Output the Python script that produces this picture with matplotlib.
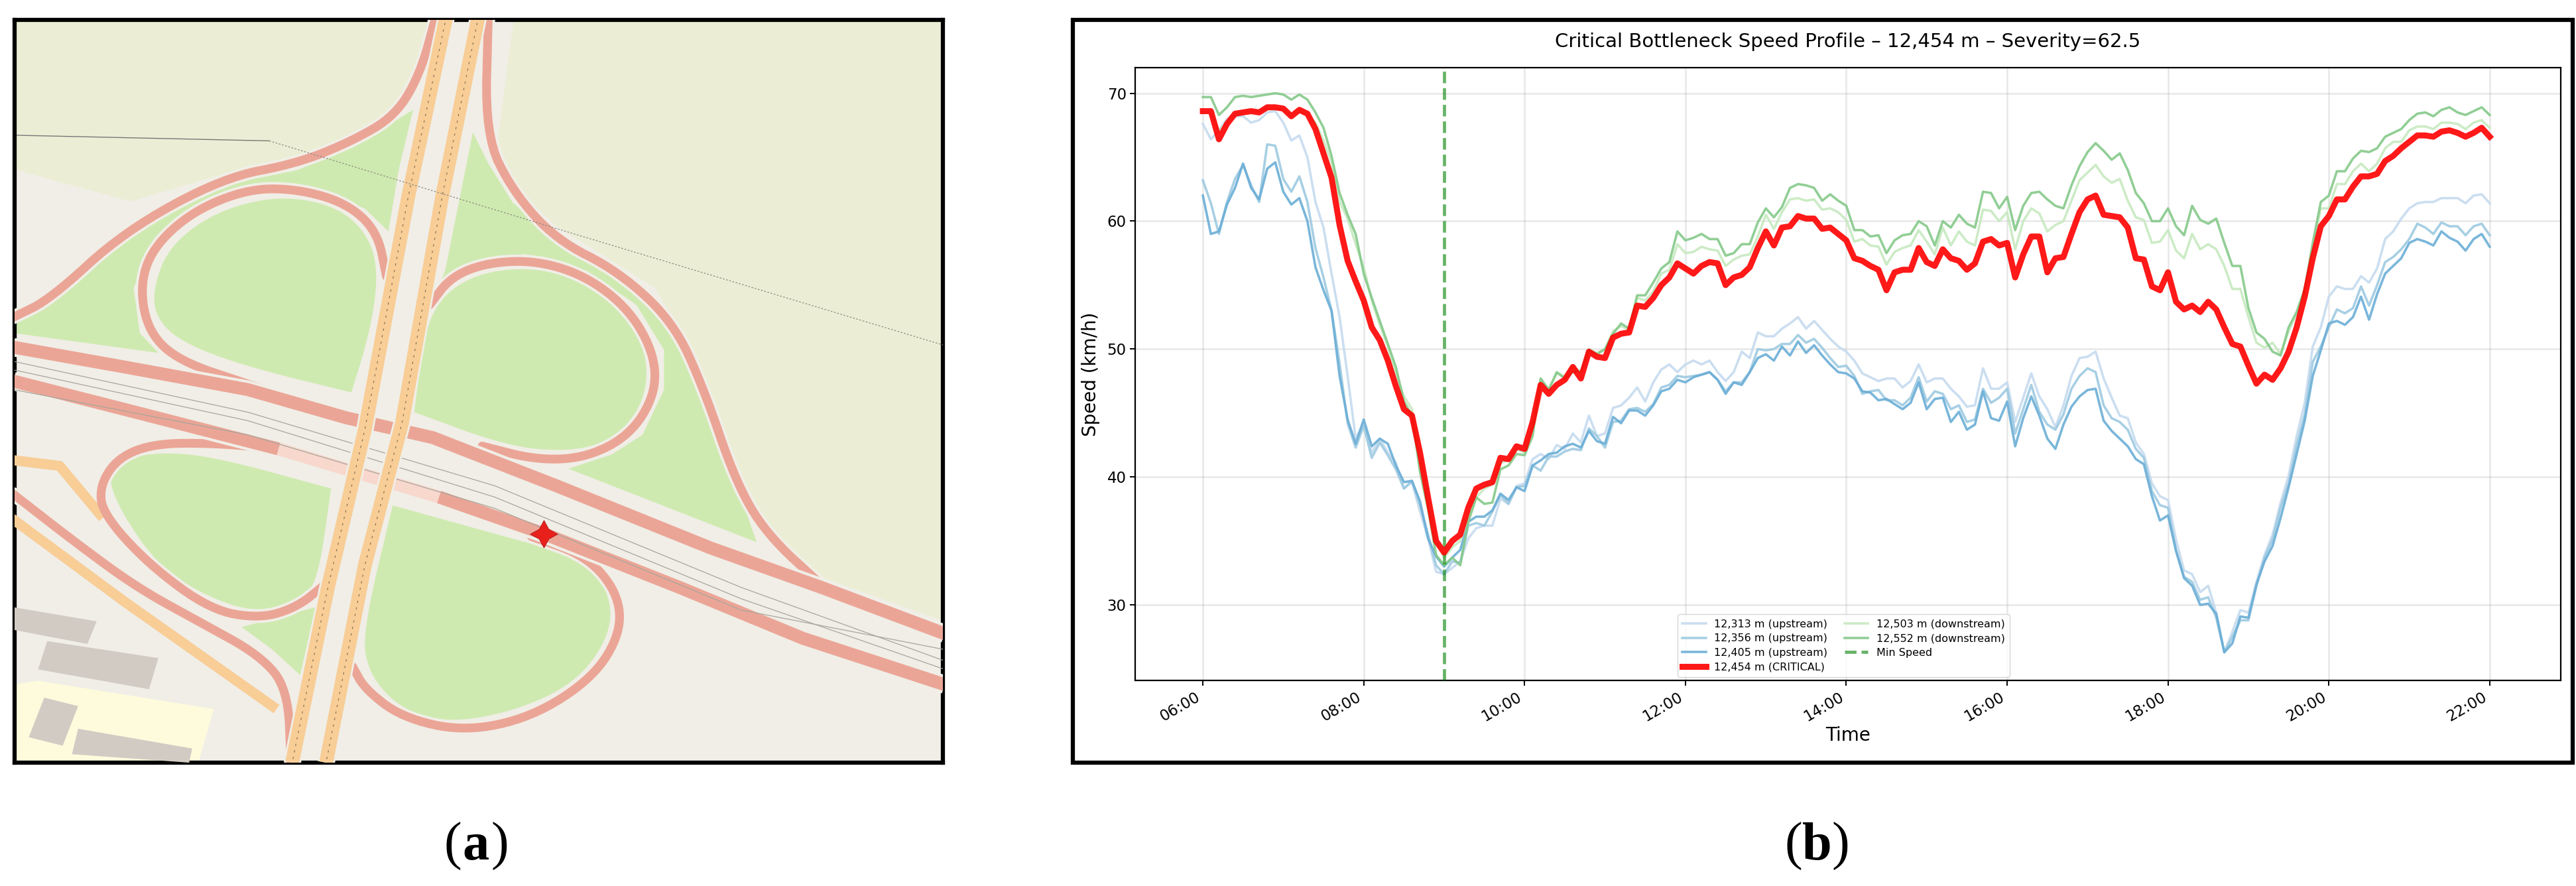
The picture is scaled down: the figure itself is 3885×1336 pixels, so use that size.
import numpy as np
import pandas as pd
import matplotlib
matplotlib.use("Agg")
import matplotlib.pyplot as plt
import matplotlib.dates as mdates
from matplotlib.patches import Rectangle, Polygon

W = 3885
H = 1336

# speed profiles, one value every 6 minutes from 06:00 to 22:00
times = pd.date_range("2024-01-01 06:00", periods=161, freq="6min")

speed_12313 = [
    67.6, 66.4, 67.1, 68.0, 68.2, 68.2, 67.7, 67.9, 68.5, 68.6,
    67.7, 66.3, 66.7, 65.0, 61.5, 59.5, 55.9, 52.5, 47.9, 43.0,
    44.2, 41.9, 43.0, 41.9, 41.1, 39.1, 39.6, 37.3, 35.2, 32.6,
    32.4, 32.9, 33.4, 35.2, 36.0, 36.2, 36.2, 38.3, 37.9, 39.3,
    39.5, 41.4, 41.8, 41.4, 42.5, 42.2, 43.4, 42.7, 44.8, 43.2,
    43.4, 45.4, 45.6, 46.2, 47.0, 45.9, 47.4, 48.4, 48.8, 48.2,
    48.8, 49.1, 48.8, 49.1, 48.2, 47.5, 48.2, 49.8, 49.3, 51.3,
    51.0, 51.0, 51.6, 52.0, 52.5, 51.6, 52.2, 51.5, 50.8, 50.2,
    49.8, 49.1, 48.1, 47.8, 47.5, 47.7, 47.7, 47.0, 47.5, 48.8,
    47.4, 47.7, 47.7, 46.9, 46.3, 45.5, 45.6, 48.5, 46.9, 46.9,
    47.4, 44.3, 46.2, 48.1, 46.3, 45.3, 43.9, 45.6, 47.9, 49.3,
    49.4, 49.8, 47.7, 46.2, 44.8, 44.6, 42.7, 41.8, 39.5, 38.5,
    38.2, 35.1, 32.7, 32.4, 31.0, 31.5, 29.4, 26.3, 27.9, 29.6,
    29.4, 31.8, 33.9, 35.5, 38.0, 40.1, 43.2, 45.8, 50.2, 51.7,
    54.1, 54.9, 54.7, 54.7, 55.7, 55.2, 56.3, 58.6, 59.2, 60.2,
    61.0, 61.4, 61.5, 61.5, 61.8, 61.8, 61.8, 61.4, 62.0, 62.1,
    61.4,
]
speed_12356 = [
    63.2, 61.4, 59.0, 61.5, 63.3, 64.4, 62.8, 61.5, 66.0, 65.9,
    63.3, 62.3, 63.5, 61.5, 57.9, 55.6, 53.0, 48.9, 44.2, 42.3,
    44.0, 41.5, 42.7, 41.7, 40.6, 39.1, 39.7, 37.8, 35.5, 33.1,
    32.4, 33.4, 33.3, 36.2, 36.4, 36.2, 37.3, 38.6, 37.9, 39.2,
    39.3, 40.9, 40.5, 41.6, 41.6, 42.0, 42.2, 42.1, 43.8, 43.2,
    42.3, 44.3, 44.4, 45.3, 45.4, 45.1, 45.7, 47.0, 47.2, 47.9,
    47.8, 47.9, 48.0, 48.2, 47.6, 46.7, 47.4, 47.4, 48.2, 50.0,
    49.9, 50.0, 50.4, 50.4, 51.1, 50.5, 50.8, 50.1, 49.3, 48.6,
    48.7, 47.9, 46.5, 46.7, 46.8, 46.0, 46.0, 45.6, 46.2, 47.8,
    45.9, 46.7, 46.5, 45.3, 45.6, 44.3, 44.5, 46.9, 45.8, 46.2,
    46.9, 43.4, 45.3, 47.2, 45.1, 44.1, 43.7, 44.9, 46.9, 47.9,
    48.5, 48.2, 45.6, 44.6, 44.3, 43.7, 42.2, 41.5, 38.9, 37.8,
    37.6, 34.3, 32.2, 31.8, 30.4, 30.6, 29.0, 26.3, 27.5, 28.8,
    28.8, 31.5, 33.7, 35.1, 37.6, 39.5, 42.5, 44.9, 49.0, 50.2,
    51.7, 53.1, 52.8, 53.2, 54.9, 53.4, 55.0, 56.8, 57.2, 57.8,
    58.6, 59.8, 59.5, 59.0, 59.9, 59.6, 59.6, 58.9, 59.6, 59.8,
    58.9,
]
speed_12405 = [
    62.0, 59.0, 59.2, 61.3, 62.6, 64.5, 62.6, 61.7, 64.1, 64.6,
    62.3, 61.3, 61.8, 60.0, 56.4, 54.6, 53.0, 47.9, 44.5, 42.6,
    44.5, 42.4, 43.0, 42.6, 40.9, 39.6, 39.7, 38.1, 35.2, 33.8,
    33.0, 33.7, 34.3, 36.5, 36.9, 36.9, 37.4, 38.7, 38.2, 39.2,
    38.9, 40.9, 41.3, 41.8, 41.9, 42.4, 42.6, 42.3, 43.6, 42.8,
    42.6, 44.7, 44.2, 45.2, 45.2, 44.8, 45.6, 46.7, 46.9, 47.6,
    47.4, 47.8, 48.0, 48.2, 47.6, 46.5, 47.4, 47.2, 48.2, 49.3,
    49.6, 49.1, 50.2, 49.5, 50.6, 49.7, 50.3, 49.5, 48.8, 48.2,
    48.1, 47.7, 46.7, 46.6, 46.0, 46.1, 45.7, 45.3, 45.8, 47.4,
    45.3, 46.1, 46.2, 44.3, 45.1, 43.7, 44.1, 46.7, 44.6, 44.4,
    45.9, 42.4, 44.6, 46.3, 44.8, 43.0, 42.2, 44.1, 45.5, 46.3,
    46.8, 46.9, 44.4, 43.6, 43.0, 42.4, 41.4, 41.0, 38.5, 36.6,
    37.0, 34.2, 32.1, 31.5, 30.0, 30.1, 29.3, 26.3, 27.0, 29.1,
    29.0, 31.6, 33.4, 34.6, 36.8, 39.2, 41.8, 44.4, 47.9, 49.9,
    52.0, 52.2, 51.9, 52.5, 54.1, 52.3, 54.3, 55.9, 56.5, 57.1,
    58.3, 58.6, 58.4, 58.1, 59.2, 58.7, 58.4, 57.7, 58.6, 59.0,
    58.0,
]
speed_12454 = [
    68.6, 68.6, 66.4, 67.6, 68.4, 68.5, 68.6, 68.5, 68.9, 68.9,
    68.8, 68.2, 68.7, 68.4, 67.2, 65.3, 63.4, 59.7, 56.9, 55.3,
    53.8, 51.7, 50.7, 49.1, 47.1, 45.3, 44.8, 41.9, 38.4, 35.0,
    34.1, 35.0, 35.5, 37.6, 39.1, 39.4, 39.6, 41.5, 41.4, 42.4,
    42.2, 44.3, 47.2, 46.5, 47.2, 47.6, 48.6, 47.7, 49.8, 49.4,
    49.3, 50.9, 51.2, 51.3, 53.4, 53.3, 54.0, 55.0, 55.6, 56.7,
    56.3, 55.9, 56.5, 56.8, 56.7, 55.0, 55.6, 55.8, 56.4, 57.9,
    59.2, 58.1, 59.5, 59.6, 60.4, 60.2, 60.2, 59.4, 59.5, 59.0,
    58.5, 57.1, 56.9, 56.5, 56.2, 54.6, 56.0, 56.2, 56.2, 57.9,
    56.8, 56.5, 57.8, 57.1, 56.9, 56.2, 56.7, 58.4, 58.6, 58.1,
    58.3, 55.6, 57.4, 58.8, 58.8, 56.0, 57.1, 57.2, 59.0, 60.7,
    61.7, 62.0, 60.5, 60.4, 60.3, 59.5, 57.1, 57.0, 54.9, 54.6,
    56.0, 53.7, 53.1, 53.4, 52.9, 53.7, 53.1, 51.7, 50.4, 50.2,
    48.7, 47.3, 48.0, 47.6, 48.5, 49.8, 51.7, 54.1, 57.1, 59.6,
    60.4, 61.7, 61.7, 62.7, 63.5, 63.5, 63.7, 64.7, 65.1, 65.7,
    66.2, 66.7, 66.7, 66.6, 67.0, 67.1, 66.9, 66.6, 66.9, 67.3,
    66.6,
]
speed_12503 = [
    68.5, 68.5, 67.0, 67.8, 68.4, 68.5, 68.6, 68.6, 68.8, 68.8,
    68.7, 68.3, 68.6, 68.3, 67.7, 66.3, 64.6, 61.5, 60.2, 58.2,
    56.4, 53.8, 51.9, 50.2, 48.1, 46.3, 45.3, 41.9, 38.4, 35.0,
    33.7, 34.5, 35.0, 36.8, 38.4, 39.1, 39.4, 41.1, 41.3, 42.2,
    41.9, 44.0, 47.6, 46.9, 48.1, 47.9, 48.6, 48.2, 50.0, 49.7,
    50.0, 51.4, 51.8, 51.5, 54.0, 53.8, 54.5, 55.9, 56.2, 58.2,
    57.5, 57.6, 58.0, 57.8, 57.7, 56.5, 57.0, 57.3, 57.4, 58.8,
    60.5, 59.4, 60.7, 61.7, 61.8, 61.6, 61.7, 60.9, 61.0, 60.7,
    60.1, 58.4, 58.6, 58.1, 58.0, 56.6, 57.6, 57.9, 58.1, 59.3,
    58.4, 57.4, 59.5, 58.1, 59.2, 58.4, 58.1, 60.9, 60.8, 60.0,
    60.7, 57.8, 60.0, 61.0, 60.6, 59.2, 59.7, 60.0, 61.6, 63.2,
    63.8, 64.4, 63.5, 63.0, 63.3, 61.6, 60.3, 60.1, 58.3, 58.4,
    59.3, 57.7, 57.1, 59.0, 57.8, 58.2, 57.8, 56.5, 54.7, 54.7,
    52.5, 50.5, 50.1, 50.5, 49.6, 51.4, 52.8, 54.7, 58.0, 61.0,
    61.0, 62.9, 62.9, 63.9, 64.5, 63.9, 64.5, 65.7, 66.2, 66.2,
    67.1, 67.4, 67.4, 67.2, 67.7, 67.7, 67.6, 67.2, 67.7, 67.9,
    67.3,
]
speed_12552 = [
    69.7, 69.7, 68.3, 68.9, 69.7, 69.8, 69.7, 69.8, 69.9, 70.0,
    69.9, 69.5, 69.9, 69.5, 68.5, 67.3, 65.1, 62.2, 60.5, 59.0,
    55.9, 54.0, 52.2, 50.4, 48.6, 45.9, 44.8, 40.4, 37.5, 33.9,
    33.1, 33.7, 33.1, 36.5, 38.4, 37.9, 38.0, 40.6, 40.9, 41.8,
    41.7, 43.2, 47.7, 46.8, 48.2, 47.7, 48.2, 48.3, 49.9, 49.6,
    50.0, 51.2, 52.0, 51.6, 54.2, 54.2, 55.2, 56.3, 56.8, 59.2,
    58.5, 58.7, 59.0, 58.6, 58.6, 57.3, 57.5, 58.2, 58.2, 59.9,
    61.0, 60.3, 61.1, 62.6, 62.9, 62.8, 62.6, 61.6, 62.1, 61.6,
    61.2, 59.3, 59.3, 58.8, 58.9, 57.5, 58.5, 58.9, 59.0, 60.0,
    59.6, 58.1, 60.0, 59.5, 60.5, 59.8, 59.5, 62.3, 62.2, 61.0,
    61.9, 59.3, 61.2, 62.2, 62.3, 61.7, 61.2, 61.0, 62.8, 64.3,
    65.4, 66.1, 65.5, 64.8, 65.3, 64.0, 62.2, 61.4, 60.0, 60.0,
    61.0, 59.6, 58.9, 61.2, 60.1, 59.8, 60.2, 58.3, 56.5, 56.5,
    53.2, 51.3, 50.8, 49.8, 49.5, 51.7, 52.9, 54.7, 58.3, 61.5,
    62.0, 63.9, 63.9, 64.9, 65.5, 65.4, 65.7, 66.6, 66.9, 67.2,
    67.9, 68.4, 68.5, 68.2, 68.7, 68.9, 68.5, 68.3, 68.6, 68.9,
    68.3,
]
labels = [
    "12,313 m (upstream)", "12,356 m (upstream)", "12,405 m (upstream)",
    "12,454 m (CRITICAL)", "12,503 m (downstream)", "12,552 m (downstream)",
]
series = [speed_12313, speed_12356, speed_12405, speed_12454, speed_12503, speed_12552]
colors = ["#c6dbef", "#9ecae1", "#6baed6", "#ff0000", "#c7e9c0", "#85c98a"]
min_time = pd.Timestamp("2024-01-01 09:00")


def px_axes(x0, y0, x1, y1):
    return fig.add_axes([x0 / W, 1 - y1 / H, (x1 - x0) / W, (y1 - y0) / H])


def smooth(pts, closed=False, n=3):
    # corner cutting so the map shapes come out round
    p = np.array(pts, dtype=float)
    for _ in range(n):
        if closed:
            q = np.roll(p, -1, axis=0)
            p = np.column_stack([0.75 * p + 0.25 * q, 0.25 * p + 0.75 * q]).reshape(-1, 2)
        else:
            a, b = p[:-1], p[1:]
            mid = np.column_stack([0.75 * a + 0.25 * b, 0.25 * a + 0.75 * b]).reshape(-1, 2)
            p = np.vstack([p[:1], mid, p[-1:]])
    return p


fig = plt.figure(figsize=(W / 100, H / 100), dpi=100, facecolor="white")

# ---- panel a, the map ----
LAND = "#f0eee7"
FARM = "#ebeed4"
GRASS = "#cfeab0"
PINK = "#eba596"
ORANGE = "#f8cd96"

farm_nw = [(20, 30), (700, 30), (672, 150), (640, 212), (560, 262), (440, 292), (350, 312), (210, 357), (20, 300)]
farm_ne = [(832, 30), (1530, 30), (1530, 1100), (1330, 1022), (1240, 940), (1180, 800), (1120, 620),
           (1060, 510), (900, 400), (840, 340), (805, 250)]
grass_wedges = [
    [(20, 572), (100, 510), (200, 410), (350, 330), (480, 302), (570, 262), (668, 195), (645, 300), (628, 410),
     (590, 370), (510, 335), (430, 330), (330, 360), (250, 420), (215, 510), (225, 590), (255, 625), (20, 590)],
    [(765, 235), (720, 480), (700, 530), (760, 470), (850, 450), (950, 480), (1030, 540), (1075, 620), (1075, 690),
     (1040, 770), (990, 805), (920, 830), (1225, 960), (1190, 850), (1130, 650), (1090, 580), (1030, 510),
     (900, 420), (830, 360), (790, 290)],
    [(390, 1110), (510, 1075), (485, 1195), (440, 1150)],
]
grass_leaves = [
    [(245, 520), (270, 440), (340, 380), (430, 350), (510, 355), (570, 385), (605, 440), (610, 510), (595, 600),
     (568, 695), (568, 695), (400, 650), (300, 610), (255, 570)],
    [(695, 560), (730, 510), (790, 480), (870, 475), (950, 500), (1020, 570), (1050, 640), (1040, 720), (990, 780),
     (920, 800), (820, 790), (670, 730), (670, 730), (680, 640)],
    [(170, 860), (190, 815), (260, 800), (350, 810), (535, 865), (535, 865), (515, 1020), (490, 1060), (420, 1085),
     (340, 1060), (250, 1000)],
    [(635, 895), (635, 895), (850, 960), (950, 990), (990, 1060), (985, 1130), (930, 1210), (830, 1260), (720, 1280),
     (640, 1250), (590, 1180), (590, 1100)],
]
grey_blocks = [
    [(20, 1075), (155, 1100), (140, 1140), (20, 1115)],
    [(75, 1135), (255, 1165), (240, 1220), (60, 1185)],
    [(70, 1235), (125, 1250), (100, 1320), (45, 1305)],
    [(125, 1290), (310, 1325), (305, 1350), (115, 1335)],
]
yellow_block = [(20, 1212), (60, 1205), (345, 1255), (320, 1350), (20, 1350)]
loops = [
    [(625, 490), (610, 410), (560, 360), (480, 335), (400, 335), (310, 375), (245, 440), (225, 510), (240, 590),
     (290, 640), (400, 680), (440, 695)],
    [(695, 540), (730, 490), (790, 465), (870, 462), (950, 490), (1020, 550), (1060, 630), (1060, 700), (1020, 770),
     (950, 810), (870, 815), (780, 790)],
    [(450, 795), (350, 785), (250, 785), (190, 810), (160, 860), (165, 910), (240, 1000), (340, 1080), (420, 1095),
     (480, 1075), (525, 1035)],
    [(860, 950), (950, 985), (1000, 1050), (1005, 1120), (960, 1200), (860, 1270), (750, 1295), (650, 1270),
     (590, 1220), (570, 1180)],
]
ramps = [
    [(20, 562), (80, 530), (200, 410), (360, 315), (480, 290), (570, 250), (640, 205), (680, 130), (705, 30)],
    [(790, 30), (785, 240), (830, 340), (900, 425), (1000, 480), (1090, 570), (1140, 690), (1190, 850), (1240, 945),
     (1335, 1040)],
    [(20, 875), (120, 960), (220, 1040), (320, 1100), (420, 1160), (465, 1220), (470, 1350)],
]
carriageways = [
    [(20, 615), (200, 650), (400, 690), (560, 740), (700, 775), (900, 860), (1150, 970), (1330, 1040), (1530, 1122)],
    [(710, 880), (880, 945), (1100, 1040), (1300, 1130), (1530, 1212)],
    [(20, 675), (200, 725), (450, 795)],
]
pale_section = [(450, 795), (710, 880)]
track_lines = [
    [(20, 640), (400, 730), (800, 860), (1200, 1040), (1530, 1170)],
    [(20, 655), (400, 745), (800, 880), (1200, 1060), (1530, 1185)],
    [(20, 690), (400, 770), (800, 900), (1200, 1080), (1530, 1150)],
]
motorways = [
    [(722, 30), (660, 350), (590, 760), (530, 1040), (472, 1350)],
    [(774, 30), (715, 350), (650, 750), (590, 1000), (527, 1350)],
]
side_orange = [
    [(20, 815), (95, 825), (160, 910)],
    [(20, 920), (200, 1065), (440, 1250)],
]
power_line = [(435, 250), (900, 405), (1530, 612)]

ax_map = px_axes(22, 30, 1422, 1150)
ax_map.set_xlim(22, 1527)
ax_map.set_ylim(1350, 36)
ax_map.set_facecolor(LAND)
ax_map.set_xticks([])
ax_map.set_yticks([])
for s in ax_map.spines.values():
    s.set_linewidth(4.5)
    s.set_color("black")

ax_map.add_patch(Polygon(farm_nw, color=FARM, lw=0))
ax_map.add_patch(Polygon(farm_ne, color=FARM, lw=0))
for shape in grass_wedges:
    ax_map.add_patch(Polygon(shape, color=GRASS, lw=0))
for shape in grass_leaves:
    ax_map.add_patch(Polygon(smooth(shape, closed=True), color=GRASS, lw=0))
for shape in grey_blocks:
    ax_map.add_patch(Polygon(shape, color="#d2cbc4", lw=0, zorder=3))
ax_map.add_patch(Polygon(yellow_block, color="#fdfbdc", lw=0, zorder=2))

for road in loops + ramps:
    xy = smooth(road)
    ax_map.plot(xy[:, 0], xy[:, 1], color=LAND, lw=15, zorder=3, solid_capstyle="round")
for road in side_orange:
    ax_map.plot(*np.array(road).T, color=ORANGE, lw=11, zorder=4)
for road in loops + ramps:
    xy = smooth(road)
    ax_map.plot(xy[:, 0], xy[:, 1], color=PINK, lw=9.5, zorder=4, solid_capstyle="round")
for road in carriageways:
    ax_map.plot(*np.array(road).T, color=LAND, lw=20, zorder=5, solid_capstyle="butt")
    ax_map.plot(*np.array(road).T, color=PINK, lw=14, zorder=6, solid_capstyle="butt")
ax_map.plot(*np.array(pale_section).T, color="#f8d8cd", lw=14, zorder=6, solid_capstyle="butt")
for road in track_lines:
    ax_map.plot(*np.array(road).T, color="#a8a59c", lw=0.9, zorder=6)
for road in motorways:
    ax_map.plot(*np.array(road).T, color=LAND, lw=19, zorder=7, solid_capstyle="butt")
for road in motorways:
    ax_map.plot(*np.array(road).T, color=ORANGE, lw=15, zorder=8, solid_capstyle="butt")
    ax_map.plot(*np.array(road).T, color="#7a6a50", lw=0.8, ls=(0, (3, 6)), zorder=9)
ax_map.plot(*np.array(power_line).T, color="#8a8a80", lw=0.9, ls=(0, (2, 2)), zorder=9)
ax_map.plot([22, 435], [240, 250], color="#777", lw=1.0, zorder=2)
ax_map.plot([880], [945], marker=(4, 1, 0), ms=30, color="#e8201c", mec="#a01010", mew=0.5, zorder=12)

# ---- panel b, the speeds ----
fig.add_artist(Rectangle((1618 / W, 1 - 1150 / H), (3880 - 1618) / W, (1150 - 30) / H, transform=fig.transFigure,
                         fill=False, ec="black", lw=4.5))

ax = px_axes(1712, 102, 3862, 1026)
for values, label, color in zip(series, labels, colors):
    critical = "CRITICAL" in label
    ax.plot(times, values, color=color, label=label, lw=6.5 if critical else 2.6, alpha=0.9,
            zorder=5 if critical else 3)
ax.axvline(min_time, color="green", ls="--", lw=3.4, alpha=0.6, label="Min Speed", zorder=4)

ax.set_xlim(pd.Timestamp("2024-01-01 05:09:30"), pd.Timestamp("2024-01-01 22:53"))
ax.set_ylim(24.1, 72.0)
ax.set_yticks([30, 40, 50, 60, 70])
ax.xaxis.set_major_locator(mdates.HourLocator(byhour=range(6, 23, 2)))
ax.xaxis.set_major_formatter(mdates.DateFormatter("%H:%M"))
ax.tick_params(labelsize=16.5, length=6, width=1.4)
plt.setp(ax.get_xticklabels(), rotation=30, ha="right")
ax.grid(True, color="#b0b0b0", alpha=0.3, lw=1.8)
ax.set_axisbelow(True)
for s in ax.spines.values():
    s.set_linewidth(1.6)
ax.set_xlabel("Time", fontsize=20, labelpad=2)
ax.set_ylabel("Speed (km/h)", fontsize=20, labelpad=8)
ax.set_title("Critical Bottleneck Speed Profile \u2013 12,454 m \u2013 Severity=62.5", fontsize=21, pad=22)

handles, names = ax.get_legend_handles_labels()
ax.legend(handles, names, ncol=2, fontsize=11.5, loc="lower center", bbox_to_anchor=(0.497, 0.0055),
          borderaxespad=0, framealpha=0.8, borderpad=0.45, labelspacing=0.42, columnspacing=1.6, handlelength=2.2)

# ---- captions ----
for cx, letter in [(718, "a"), (2740, "b")]:
    y = 1 - 1296 / H
    fig.text((cx - 22) / W, y, "(", family="Liberation Serif", fontsize=58, ha="right", va="baseline")
    fig.text(cx / W, y, letter, family="Liberation Serif", fontsize=58, weight="bold", ha="center", va="baseline")
    fig.text((cx + 22) / W, y, ")", family="Liberation Serif", fontsize=58, ha="left", va="baseline")

fig.savefig("out.png", dpi=100)
